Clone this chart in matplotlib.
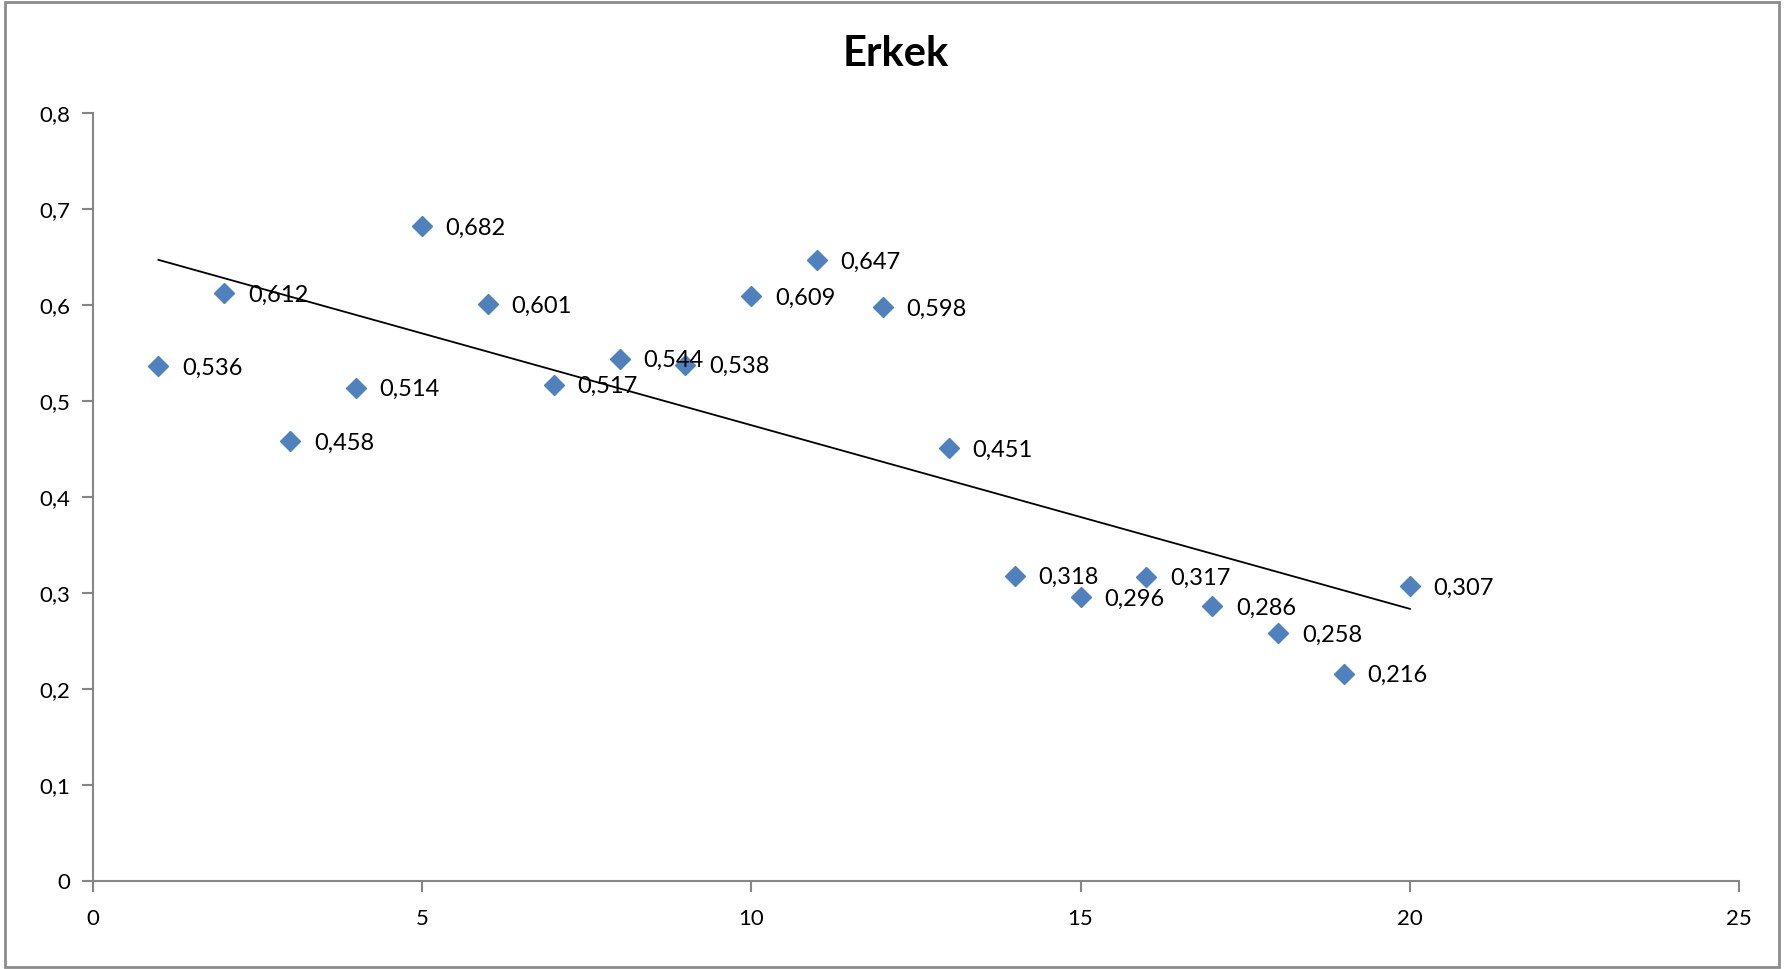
import numpy as np
import matplotlib
matplotlib.use("Agg")
import matplotlib.pyplot as plt
from matplotlib.patches import Rectangle

plt.rcParams['font.family'] = ['Lato', 'DejaVu Sans']

# data
x = np.arange(1, 21)
y = [0.536, 0.612, 0.458, 0.514, 0.682, 0.601, 0.517, 0.544, 0.538, 0.609,
     0.647, 0.598, 0.451, 0.318, 0.296, 0.317, 0.286, 0.258, 0.216, 0.307]
title = "Erkek"

fig = plt.figure(figsize=(17.84, 9.69), dpi=100)
ax = fig.add_axes([0.0519, 0.0908, 0.923, 0.7926])

# outer chart border
fig.patches.append(Rectangle((0.003, 0.002), 0.994, 0.996, transform=fig.transFigure,
                             fill=False, edgecolor='#8c8c8c', linewidth=2))

# linear trend line
k, b = np.polyfit(x, y, 1)
xs = np.array([x[0], x[-1]])
ax.plot(xs, k * xs + b, color='black', linewidth=1.3, zorder=2)

ax.plot(x, y, linestyle='none', marker='D', markersize=10,
        color='#4F81BD', markeredgecolor='#4F81BD', zorder=3)

for xi, yi in zip(x, y):
    ax.annotate(f"{yi:.3f}".replace('.', ','), (xi, yi), xytext=(17, -1.5),
                textcoords='offset points', va='center', ha='left', fontsize=17)

ax.set_xlim(0, 25)
ax.set_ylim(0, 0.8)
ax.set_xticks(np.arange(0, 26, 5))
ax.set_yticks(np.arange(0, 0.81, 0.1))
ax.set_yticklabels([f"{v:.1f}".replace('.', ',') if v > 0 else "0" for v in np.arange(0, 0.81, 0.1)])

for s in ['top', 'right']:
    ax.spines[s].set_visible(False)
for s in ['left', 'bottom']:
    ax.spines[s].set_color('#868686')
    ax.spines[s].set_linewidth(1.5)
ax.tick_params(colors='#868686', labelcolor='black', labelsize=16, length=8, width=1.5)
ax.tick_params(axis='x', pad=12)
ax.tick_params(axis='y', pad=8)

fig.text(0.502, 0.944, title, ha='center', va='center', fontsize=30, fontweight='bold')

fig.savefig("out.png", dpi=100)
